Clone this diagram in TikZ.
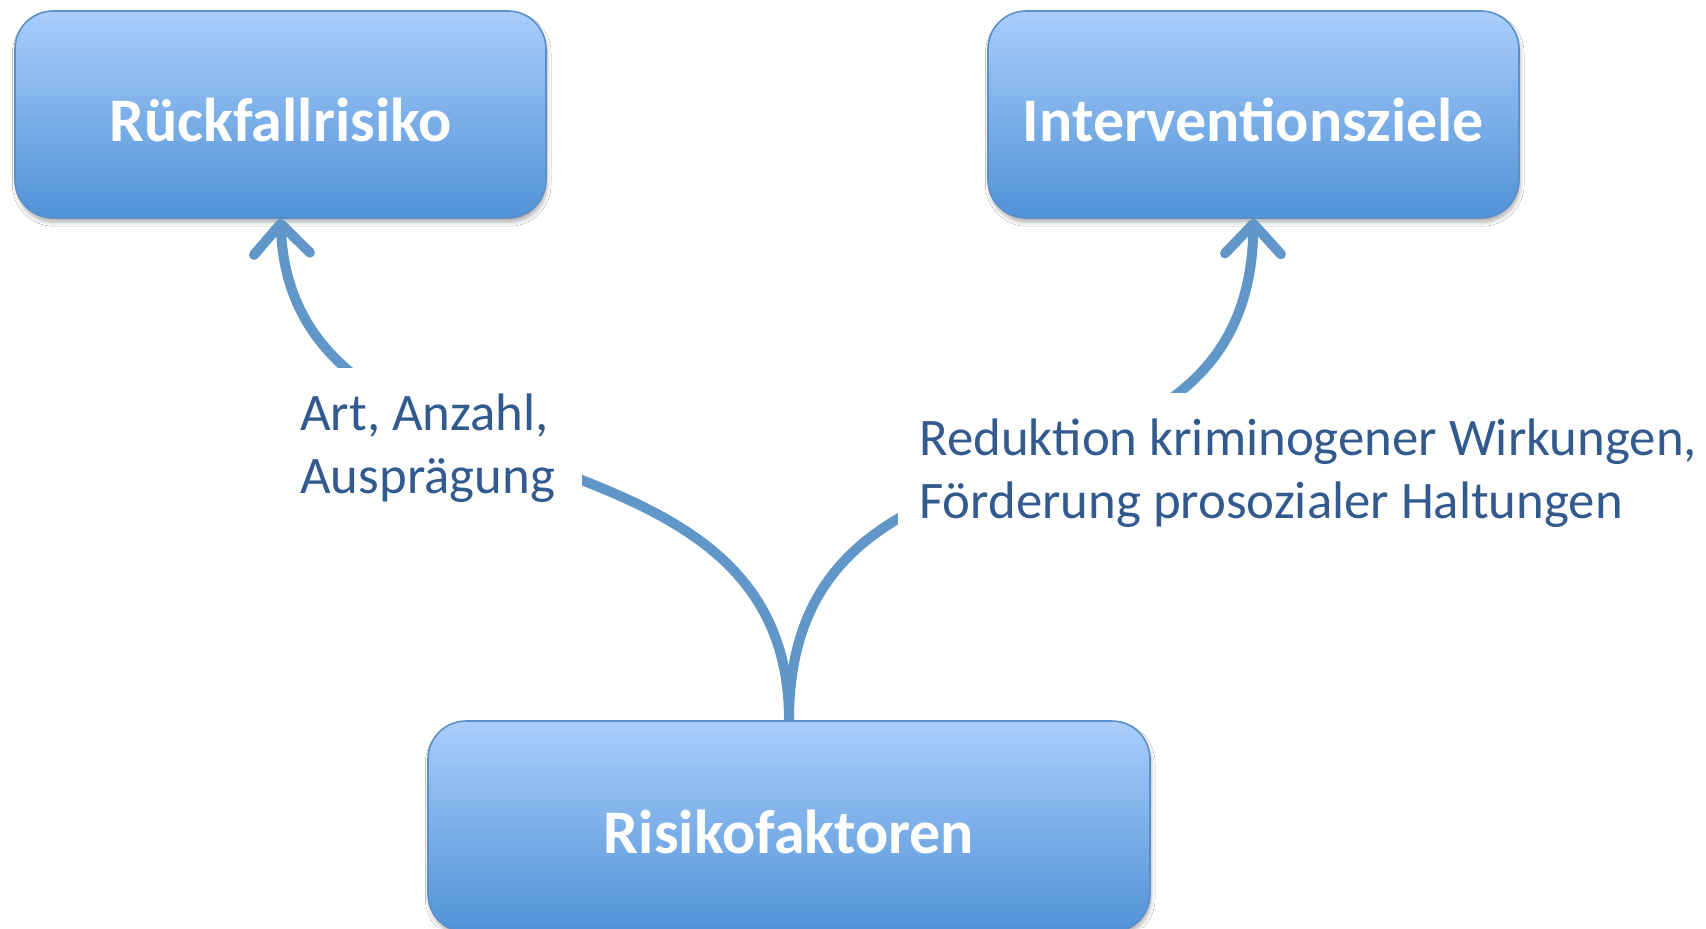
\documentclass[tikz,border=0pt]{standalone}
\usepackage{fontspec}
\setmainfont{Carlito}
\usetikzlibrary{arrows.meta,shadows.blur}

\definecolor{boxtop}{RGB}{170,205,252}
\definecolor{boxbot}{RGB}{80,146,214}
\definecolor{boxline}{RGB}{92,142,200}
\definecolor{flow}{RGB}{96,151,200}
\definecolor{labeltext}{RGB}{50,90,142}

\tikzset{
  topic/.style={rectangle, rounded corners=19pt, draw=boxline, line width=0.8pt,
    top color=boxtop, bottom color=boxbot, inner sep=0pt,
    text=white, font=\bfseries\fontsize{31}{37}\selectfont,
    text height=27pt, text depth=0pt,
    blur shadow={shadow blur steps=6, shadow xshift=0.6pt, shadow yshift=-2.2pt, shadow opacity=30}},
  flowline/.style={draw=flow, line width=5pt,
    -{Straight Barb[length=15pt, width=28pt, round]}},
  labelpad/.style={rectangle, fill=white, draw=none, inner sep=0pt},
  labeltxt/.style={anchor=north west, inner sep=0pt, align=left, text=labeltext,
    font=\fontsize{26.4}{31.5}\selectfont},
}

\begin{document}
\begin{tikzpicture}[x=0.5pt, y=-0.5pt]
  \useasboundingbox[fill=white] (0,0) rectangle (1706,928);

  % the three topic boxes
  \node[topic, minimum width=265.5pt, minimum height=103.5pt] (rf) at (280.5,114.5) {Rückfallrisiko};
  \node[topic, minimum width=265.5pt, minimum height=103.5pt] (iz) at (1253.5,114.5) {Interventionsziele};
  \node[topic, minimum width=361pt, minimum height=105.5pt] (risk) at (789,826.5) {Risikofaktoren};

  % curved arrows from the risk factors up to both goals
  \draw[flowline] (risk.north) .. controls +(0,-320) and +(12,302) .. (rf.south);
  \draw[flowline] (risk.north) .. controls +(0,-340) and +(-5,330) .. (iz.south);

  % label panels laid over the arrows
  \node[labelpad, minimum width=151pt, minimum height=72.5pt] (pad1) at (431,440.5) {};
  \node[labelpad, minimum width=401pt, minimum height=75.5pt] (pad2) at (1299,468.5) {};

  \node[labeltxt] (lab1) at (300,393) {Art, Anzahl,\\Ausprägung};
  \node[labeltxt] (lab2) at (919,418) {Reduktion kriminogener Wirkungen,\\Förderung prosozialer Haltungen};
\end{tikzpicture}
\end{document}
